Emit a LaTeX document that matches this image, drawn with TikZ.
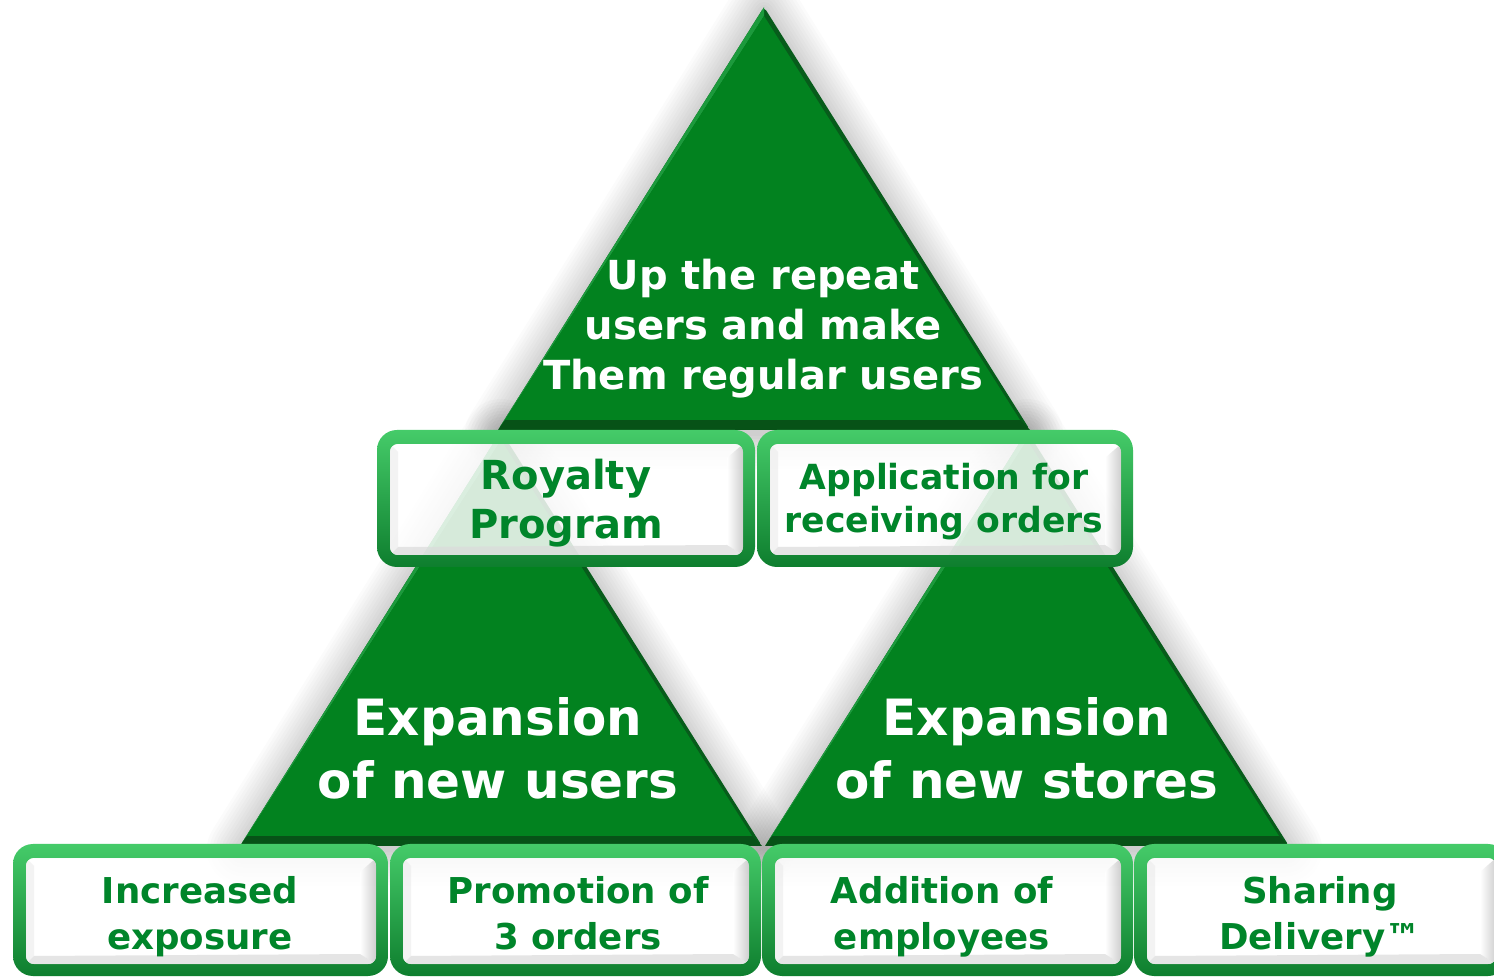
\documentclass[tikz,border=0pt]{standalone}
\usepackage{fontspec}
\setmainfont{DejaVu Sans}
\definecolor{trifill}{HTML}{02821F}
\definecolor{tridark}{HTML}{075C1B}
\definecolor{tribot}{HTML}{075217}
\definecolor{trilight}{HTML}{1C9A3C}
\definecolor{ringtop}{HTML}{45CB69}
\definecolor{ringmid}{HTML}{22A444}
\definecolor{ringbot}{HTML}{0E7E2E}
\definecolor{boxtext}{HTML}{00852A}
\tikzset{
  tritext/.style={text=white, align=center, inner sep=0pt, font=\bfseries\fontsize{20}{25}\selectfont},
  bigtext/.style={text=white, align=center, inner sep=0pt, font=\bfseries\fontsize{25}{31.5}\selectfont},
  boxlabel/.style={text=boxtext, align=center, inner sep=0pt},
  smalllabel/.style={boxlabel, font=\bfseries\fontsize{17.8}{23}\selectfont},
  glowline/.style={draw=black, line join=round, draw opacity=0.014}
}
% apex x, apex y, half width, base y
\newcommand\gglow[4]{%
  \foreach \w in {3,6,...,36}{%
    \draw[glowline, line width=\w pt] (#1,{#2+4}) -- ({#1-#3+3},{#4+3}) -- ({#1+#3-3},{#4+3}) -- cycle;
  }%
}
\newcommand\gtri[4]{%
  \fill[tridark, rounded corners=2pt] (#1,#2) -- ({#1-#3},#4) -- ({#1+#3},#4) -- cycle;
  \fill[trilight] (#1,#2) -- ({#1-#3},#4) -- ({#1-#3+7},{#4-10}) -- (#1,{#2+9}) -- cycle;
  \fill[tribot] ({#1-#3},#4) -- ({#1+#3},#4) -- ({#1+#3-10},{#4-10}) -- ({#1-#3+7},{#4-10}) -- cycle;
  \fill[trifill] (#1,{#2+9}) -- ({#1-#3+7},{#4-10}) -- ({#1+#3-10},{#4-10}) -- cycle;
}
% x1, y1, x2, y2 (top left, bottom right)
\newcommand\gbox[4]{%
  \shade[even odd rule, top color=ringtop, middle color=ringmid, bottom color=ringbot]
    [rounded corners=10pt] (#1,#2) rectangle (#3,#4)
    [rounded corners=4pt] ({#1+13},{#2+14}) rectangle ({#3-12},{#4-12});
  \begin{scope}
    \clip[rounded corners=4pt] ({#1+13},{#2+14}) rectangle ({#3-12},{#4-12});
    \fill[white, fill opacity=.84] ({#1+13},{#2+14}) rectangle ({#3-12},{#4-12});
    \fill[black!8, fill opacity=.6] ({#1+13},{#2+14}) -- ({#1+21},{#2+22}) -- ({#1+21},{#4-20}) -- ({#1+13},{#4-12}) -- cycle;
    \shade[left color=white, right color=black!25, fill opacity=.75] ({#3-12},{#2+14}) -- ({#3-28},{#2+28}) -- ({#3-28},{#4-22}) -- ({#3-12},{#4-12}) -- cycle;
    \fill[black!14, fill opacity=.7] ({#1+13},{#4-12}) -- ({#1+21},{#4-20}) -- ({#3-28},{#4-22}) -- ({#3-12},{#4-12}) -- cycle;
  \end{scope}
}
\begin{document}
\begin{tikzpicture}[x=0.5pt, y=-0.5pt]
  \useasboundingbox (0,0) rectangle (1494,977);
  \clip (0,0) rectangle (1494,977);
  \fill[white] (0,0) rectangle (1494,977);

  % soft glow behind triangles
  \gglow{764}{7}{266}{430}
  \gglow{501}{431}{261}{846}
  \gglow{1027}{431}{262}{846}

  % triangles
  \gtri{764}{7}{266}{430}
  \gtri{501}{431}{261}{846}
  \gtri{1027}{431}{262}{846}

  % boxes
  \gbox{377}{430}{755}{567}
  \gbox{757}{430}{1133}{567}
  \gbox{13}{844}{388}{976}
  \gbox{390}{844}{761}{976}
  \gbox{762}{844}{1133}{976}
  \gbox{1134}{844}{1508}{976}

  % triangle texts
  \node[tritext] (top) at (763,329) {Up the repeat\\users and make\\Them regular users};
  \node[bigtext] (users) at (498,748) {Expansion\\of new users};
  \node[bigtext] (stores) at (1027,748) {Expansion\\of new stores};

  % box texts
  \node[boxlabel, font=\bfseries\fontsize{20}{24.5}\selectfont] (royalty) at (566,503) {Royalty\\Program};
  \node[boxlabel, font=\bfseries\fontsize{17.3}{21.5}\selectfont] (app) at (944,502) {Application for\\receiving orders};
  \node[smalllabel] (exposure) at (200,917) {Increased\\exposure};
  \node[smalllabel] (promo) at (578,913) {Promotion of\\3 orders};
  \node[smalllabel] (staff) at (942,917) {Addition of\\employees};
  \node[smalllabel] (sharing) at (1320,917) {Sharing\\Delivery™};
\end{tikzpicture}
\end{document}
